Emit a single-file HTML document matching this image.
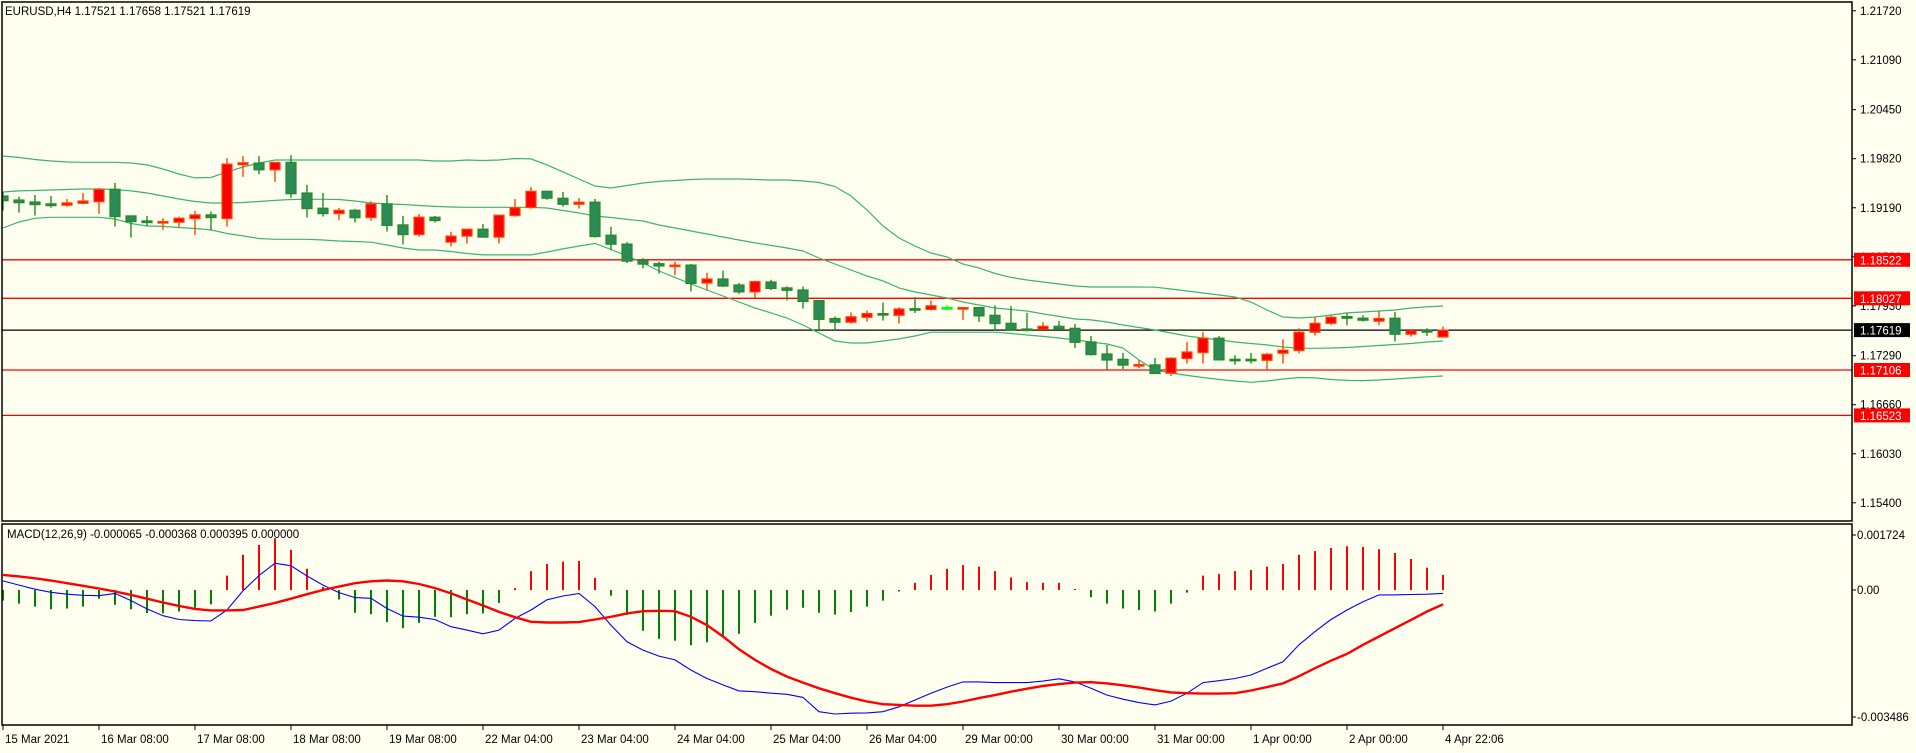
<!DOCTYPE html>
<html><head><meta charset="utf-8"><title>EURUSD H4</title>
<style>
html,body{margin:0;padding:0;background:#FFFFF0;}
body{width:1916px;height:748px;overflow:hidden;font-family:"Liberation Sans",sans-serif;}
svg text{font-family:"Liberation Sans",sans-serif;font-size:11.5px;}
</style></head>
<body>
<svg id="chart" width="1916" height="748" xmlns="http://www.w3.org/2000/svg">
<rect x="0" y="0" width="1916" height="748" fill="#FFFFF0"/>
<defs>
<clipPath id="mainClip"><rect x="2" y="2" width="1850" height="519"/></clipPath>
<clipPath id="macdClip"><rect x="2" y="524" width="1850" height="201"/></clipPath>
</defs>
<g id="main-plot" clip-path="url(#mainClip)"></g>
<g id="macd-plot" clip-path="url(#macdClip)"></g>
<g id="frame">
<rect x="2" y="2" width="1850" height="519" fill="none" stroke="#000" stroke-width="1.5"/>
<rect x="2" y="524" width="1850" height="201" fill="none" stroke="#000" stroke-width="1.5"/>
</g>
<g id="axes"></g>
<text x="5" y="15" fill="#000">EURUSD,H4  1.17521 1.17658 1.17521 1.17619</text>
<text x="7" y="538" fill="#000">MACD(12,26,9) -0.000065 -0.000368 0.000395 0.000000</text>
</svg>
<script>
const opens=[1.19341,1.19290,1.19264,1.19239,1.19222,1.19248,1.19268,1.19427,1.19085,1.19021,1.18999,1.19005,1.19051,1.19098,1.19051,1.19742,1.19764,1.19678,1.19773,1.19380,1.19184,1.19115,1.19158,1.19063,1.19239,1.18970,1.18846,1.19069,1.18749,1.18826,1.18915,1.18813,1.19089,1.19191,1.19401,1.19312,1.19235,1.19261,1.18838,1.18723,1.18513,1.18471,1.18441,1.18454,1.18224,1.18275,1.18198,1.18109,1.18237,1.18160,1.18134,1.17997,1.17767,1.17719,1.17784,1.17831,1.17809,1.17894,1.17885,1.17907,1.17904,1.17908,1.17809,1.17706,1.17633,1.17629,1.17667,1.17642,1.17466,1.17312,1.17244,1.17166,1.17171,1.17064,1.17253,1.17329,1.17514,1.17244,1.17244,1.17231,1.17321,1.17357,1.17592,1.17706,1.17792,1.17771,1.17732,1.17771,1.17565,1.17613,1.17531];
const highs=[1.19397,1.19332,1.19354,1.19341,1.19303,1.19380,1.19444,1.19508,1.19085,1.19085,1.19056,1.19076,1.19149,1.19140,1.19828,1.19853,1.19853,1.19773,1.19866,1.19482,1.19380,1.19188,1.19175,1.19273,1.19354,1.19085,1.19111,1.19085,1.18881,1.18915,1.18983,1.19094,1.19303,1.19456,1.19401,1.19392,1.19316,1.19303,1.18945,1.18749,1.18544,1.18497,1.18497,1.18467,1.18356,1.18382,1.18224,1.18254,1.18266,1.18180,1.18180,1.17997,1.17792,1.17844,1.17869,1.17972,1.17913,1.18044,1.17997,1.17937,1.17908,1.17908,1.17937,1.17928,1.17838,1.17719,1.17735,1.17697,1.17543,1.17427,1.17325,1.17230,1.17261,1.17270,1.17465,1.17594,1.17543,1.17295,1.17325,1.17325,1.17501,1.17643,1.17787,1.17805,1.17835,1.17809,1.17864,1.17852,1.17633,1.17643,1.17663];
const lows=[1.19153,1.19127,1.19089,1.19191,1.19204,1.19235,1.19111,1.18948,1.18807,1.18957,1.18906,1.18941,1.18842,1.18896,1.18948,1.19588,1.19623,1.19524,1.19319,1.19063,1.19076,1.19034,1.18999,1.19025,1.18884,1.18718,1.18820,1.18999,1.18692,1.18731,1.18813,1.18731,1.19076,1.19179,1.19294,1.19204,1.19179,1.18807,1.18643,1.18481,1.18411,1.18343,1.18321,1.18116,1.18128,1.18172,1.18083,1.18032,1.18134,1.18001,1.17895,1.17603,1.17616,1.17702,1.17728,1.17741,1.17702,1.17838,1.17872,1.17875,1.17750,1.17724,1.17612,1.17620,1.17600,1.17620,1.17633,1.17389,1.17291,1.17106,1.17119,1.17132,1.17060,1.17029,1.17188,1.17188,1.17235,1.17175,1.17188,1.17106,1.17188,1.17321,1.17548,1.17680,1.17680,1.17728,1.17680,1.17472,1.17535,1.17544,1.17531];
const closes=[1.19281,1.19255,1.19230,1.19217,1.19252,1.19277,1.19427,1.19076,1.19012,1.18999,1.19012,1.19056,1.19098,1.19063,1.19751,1.19767,1.19678,1.19773,1.19371,1.19179,1.19115,1.19158,1.19063,1.19239,1.18961,1.18846,1.19069,1.19025,1.18826,1.18915,1.18813,1.19094,1.19191,1.19401,1.19312,1.19235,1.19261,1.18820,1.18723,1.18505,1.18467,1.18441,1.18454,1.18219,1.18275,1.18185,1.18109,1.18241,1.18155,1.18129,1.17988,1.17757,1.17719,1.17789,1.17831,1.17815,1.17890,1.17885,1.17931,1.17907,1.17908,1.17801,1.17702,1.17620,1.17625,1.17667,1.17638,1.17462,1.17304,1.17235,1.17170,1.17175,1.17060,1.17257,1.17337,1.17514,1.17235,1.17236,1.17236,1.17308,1.17360,1.17592,1.17706,1.17784,1.17771,1.17745,1.17767,1.17565,1.17608,1.17592,1.17619];
const bandUpper=[1.19855,1.19836,1.19810,1.19791,1.19778,1.19774,1.19774,1.19774,1.19765,1.19740,1.19688,1.19624,1.19573,1.19579,1.19650,1.19714,1.19765,1.19804,1.19804,1.19804,1.19804,1.19804,1.19804,1.19804,1.19804,1.19804,1.19804,1.19791,1.19791,1.19804,1.19797,1.19804,1.19823,1.19817,1.19740,1.19650,1.19560,1.19470,1.19444,1.19476,1.19508,1.19528,1.19540,1.19553,1.19560,1.19560,1.19560,1.19553,1.19547,1.19547,1.19534,1.19515,1.19463,1.19341,1.19162,1.18956,1.18802,1.18699,1.18609,1.18558,1.18468,1.18417,1.18346,1.18295,1.18262,1.18237,1.18211,1.18185,1.18172,1.18172,1.18172,1.18172,1.18169,1.18147,1.18121,1.18095,1.18070,1.18044,1.17980,1.17877,1.17787,1.17774,1.17787,1.17813,1.17839,1.17851,1.17864,1.17877,1.17903,1.17916,1.17928];
const bandMiddle=[1.19393,1.19406,1.19412,1.19418,1.19425,1.19431,1.19431,1.19425,1.19406,1.19380,1.19341,1.19303,1.19271,1.19251,1.19251,1.19258,1.19271,1.19284,1.19296,1.19299,1.19299,1.19296,1.19277,1.19251,1.19239,1.19232,1.19219,1.19207,1.19200,1.19196,1.19196,1.19196,1.19196,1.19196,1.19187,1.19155,1.19123,1.19084,1.19065,1.19040,1.19020,1.18969,1.18930,1.18892,1.18853,1.18815,1.18776,1.18738,1.18706,1.18673,1.18635,1.18545,1.18468,1.18391,1.18314,1.18250,1.18160,1.18108,1.18070,1.18031,1.17980,1.17941,1.17903,1.17883,1.17864,1.17826,1.17794,1.17761,1.17749,1.17723,1.17684,1.17652,1.17620,1.17581,1.17543,1.17517,1.17492,1.17466,1.17447,1.17428,1.17402,1.17385,1.17385,1.17389,1.17395,1.17408,1.17421,1.17434,1.17447,1.17466,1.17479];
const bandLower=[1.18930,1.19007,1.19055,1.19068,1.19068,1.19068,1.19068,1.19046,1.18988,1.18956,1.18950,1.18937,1.18924,1.18905,1.18860,1.18828,1.18795,1.18785,1.18785,1.18785,1.18776,1.18763,1.18757,1.18747,1.18712,1.18673,1.18648,1.18648,1.18628,1.18603,1.18584,1.18584,1.18584,1.18584,1.18622,1.18661,1.18699,1.18731,1.18654,1.18571,1.18481,1.18378,1.18295,1.18211,1.18134,1.18057,1.17980,1.17903,1.17839,1.17774,1.17684,1.17581,1.17479,1.17453,1.17453,1.17479,1.17505,1.17543,1.17591,1.17591,1.17591,1.17591,1.17591,1.17575,1.17556,1.17537,1.17517,1.17492,1.17466,1.17440,1.17389,1.17235,1.17106,1.17068,1.17036,1.17010,1.16984,1.16965,1.16948,1.16965,1.16991,1.17010,1.17004,1.16984,1.16972,1.16970,1.16978,1.16991,1.17004,1.17017,1.17029];
const macdHist=[-0.00028,-0.00036,-0.00044,-0.00051,-0.00049,-0.00044,-0.00023,-0.00039,-0.00051,-0.00061,-0.00062,-0.00057,-0.00047,-0.00038,0.00038,0.00093,0.00119,0.00137,0.00106,0.00056,0.00008,-0.00025,-0.00060,-0.00064,-0.00085,-0.00101,-0.00087,-0.00071,-0.00072,-0.00064,-0.00062,-0.00034,0.00005,0.00050,0.00069,0.00075,0.00077,0.00032,-0.00015,-0.00066,-0.00108,-0.00129,-0.00134,-0.00146,-0.00138,-0.00125,-0.00116,-0.00087,-0.00068,-0.00052,-0.00047,-0.00060,-0.00065,-0.00058,-0.00044,-0.00028,-0.00004,0.00019,0.00040,0.00056,0.00066,0.00062,0.00050,0.00033,0.00021,0.00019,0.00019,0.00003,-0.00019,-0.00036,-0.00049,-0.00053,-0.00057,-0.00036,-0.00007,0.00038,0.00042,0.00050,0.00053,0.00062,0.00069,0.00093,0.00103,0.00111,0.00116,0.00114,0.00108,0.00098,0.00082,0.00059,0.00040];
const macdLine=[0.00024,0.00013,0.00002,-0.00006,-0.00011,-0.00014,-0.00015,-0.00009,-0.00028,-0.00050,-0.00068,-0.00078,-0.00081,-0.00082,-0.00053,-0.00002,0.00038,0.00071,0.00064,0.00037,0.00013,-0.00007,-0.00020,-0.00022,-0.00049,-0.00069,-0.00072,-0.00078,-0.00097,-0.00106,-0.00116,-0.00106,-0.00075,-0.00053,-0.00026,-0.00016,-0.00009,-0.00044,-0.00093,-0.00137,-0.00159,-0.00175,-0.00185,-0.00212,-0.00234,-0.00251,-0.00267,-0.00269,-0.00273,-0.00276,-0.00284,-0.00322,-0.00328,-0.00326,-0.00325,-0.00322,-0.00309,-0.00291,-0.00273,-0.00257,-0.00243,-0.00243,-0.00245,-0.00245,-0.00245,-0.00241,-0.00235,-0.00243,-0.00260,-0.00278,-0.00289,-0.00298,-0.00304,-0.00294,-0.00273,-0.00245,-0.00240,-0.00234,-0.00225,-0.00207,-0.00190,-0.00145,-0.00110,-0.00078,-0.00053,-0.00031,-0.00013,-0.00013,-0.00012,-0.00011,-0.00009];
const signalLine=[0.00040,0.00036,0.00031,0.00025,0.00018,0.00011,0.00004,-0.00004,-0.00013,-0.00023,-0.00033,-0.00042,-0.00050,-0.00054,-0.00054,-0.00053,-0.00044,-0.00034,-0.00023,-0.00011,0.00000,0.00009,0.00018,0.00023,0.00025,0.00023,0.00016,0.00005,-0.00009,-0.00025,-0.00041,-0.00058,-0.00072,-0.00084,-0.00086,-0.00086,-0.00085,-0.00078,-0.00071,-0.00062,-0.00056,-0.00055,-0.00056,-0.00071,-0.00093,-0.00123,-0.00157,-0.00185,-0.00209,-0.00229,-0.00245,-0.00260,-0.00273,-0.00285,-0.00295,-0.00302,-0.00304,-0.00306,-0.00306,-0.00302,-0.00295,-0.00286,-0.00278,-0.00269,-0.00261,-0.00254,-0.00249,-0.00245,-0.00244,-0.00247,-0.00252,-0.00258,-0.00265,-0.00271,-0.00273,-0.00274,-0.00274,-0.00273,-0.00266,-0.00257,-0.00247,-0.00228,-0.00207,-0.00187,-0.00169,-0.00145,-0.00123,-0.00101,-0.00079,-0.00057,-0.00038];
const priceTicks=["1.21720","1.21090","1.20450","1.19820","1.19190","1.18560","1.17930","1.17290","1.16660","1.16030","1.15400"];
const redLevels=[1.18522,1.18027,1.17106,1.16523];
const lastPrice=1.17619;
const macdTicks=["0.001724","0.00","-0.003486"];
const timeLabels=["15 Mar 2021","16 Mar 08:00","17 Mar 08:00","18 Mar 08:00","19 Mar 08:00","22 Mar 04:00","23 Mar 04:00","24 Mar 04:00","25 Mar 04:00","26 Mar 04:00","29 Mar 00:00","30 Mar 00:00","31 Mar 00:00","1 Apr 00:00","2 Apr 00:00"];
const lastTimeLabel="4 Apr 22:06";

const NS="http://www.w3.org/2000/svg";
function xB(i){return 3+16*i;}
function yP(p){return 298.3+(1.18027-p)*7785;}
function yM(v){return 590-v*37800;}
function mk(tag,attrs,parent){const e=document.createElementNS(NS,tag);for(const k in attrs)e.setAttribute(k,attrs[k]);parent.appendChild(e);return e;}
const main=document.getElementById('main-plot');
const macd=document.getElementById('macd-plot');
const axes=document.getElementById('axes');

// horizontal levels
redLevels.forEach((p,k)=>{
  const l=mk('line',{x1:2,x2:1852,y1:yP(p).toFixed(1),y2:yP(p).toFixed(1),stroke:'#FF0000','stroke-width':1.3},main);
  
  
});
const bl=mk('line',{x1:2,x2:1852,y1:yP(lastPrice).toFixed(1),y2:yP(lastPrice).toFixed(1),stroke:'#000','stroke-width':1.3},main);



// bands
[[bandUpper,'bollinger-upper'],[bandMiddle,'bollinger-middle'],[bandLower,'bollinger-lower']].forEach(([arr,name])=>{
  const pts=arr.map((p,i)=>xB(i)+','+yP(p).toFixed(1)).join(' ');
  const pl=mk('polyline',{points:pts,fill:'none',stroke:'#3CB371','stroke-width':1.2},main);
  
  
});

// candles
opens.forEach((o,i)=>{
  const c=closes[i],h=highs[i],lo=lows[i],x=xB(i);
  const g=mk('g',{},main);
  
  
  let wick,fill,edge;
  if(Math.abs(o-c)<0.000005){wick='#00FF00';fill='#00FF00';edge='#00FF00';}
  else if(c>o){wick='#FF4500';fill='#FF0000';edge='#FF4500';}
  else{wick='#228B22';fill='#2E8B57';edge='#228B22';}
  mk('line',{x1:x,x2:x,y1:yP(h).toFixed(1),y2:yP(lo).toFixed(1),stroke:wick,'stroke-width':1.4},g);
  const top=yP(Math.max(o,c)),bot=yP(Math.min(o,c));
  const ht=Math.max(bot-top,1.5);
  mk('rect',{x:x-5,y:top.toFixed(1),width:10,height:ht.toFixed(1),fill:fill,stroke:edge,'stroke-width':1.2},g);
});

// MACD histogram
macdHist.forEach((v,i)=>{
  const x=xB(i);
  const b=mk('line',{x1:x,x2:x,y1:yM(0),y2:yM(v).toFixed(1),stroke:v>=0?'#FF0000':'#008000','stroke-width':2},macd);
  
  
});
const ml=mk('polyline',{points:macdLine.map((v,i)=>xB(i)+','+yM(v).toFixed(1)).join(' '),fill:'none',stroke:'#0000FF','stroke-width':1.1},macd);


const sl=mk('polyline',{points:signalLine.map((v,i)=>xB(i)+','+yM(v).toFixed(1)).join(' '),fill:'none',stroke:'#FF0000','stroke-width':2.4},macd);



// price axis
priceTicks.forEach(t=>{
  const y=yP(parseFloat(t));
  mk('line',{x1:1852,x2:1856,y1:y,y2:y,stroke:'#000'},axes);
  const tx=mk('text',{x:1860,y:(y+4).toFixed(1),fill:'#000'},axes);
  tx.textContent=t;
  
  
});
function tag(p,bg,name){
  const y=yP(p);
  const r=mk('rect',{x:1854,y:(y-7).toFixed(1),width:56,height:14,fill:bg},axes);
  
  
  const t=mk('text',{x:1860,y:(y+4.5).toFixed(1),fill:'#FFF'},axes);
  t.textContent=p.toFixed(5);
  
  
}
redLevels.forEach(p=>tag(p,'#FF0000','level-price-tag'));
tag(lastPrice,'#000','bid-price-tag');

// macd axis
const macdVals=[0.001724,0,-0.003486];
const macdYs=[535,590,717];
macdTicks.forEach((t,k)=>{
  const y=k===1?yM(macdVals[k]):macdYs[k];
  mk('line',{x1:1852,x2:1856,y1:y,y2:y,stroke:'#000'},axes);
  const tx=mk('text',{x:1857,y:(y+4).toFixed(1),fill:'#000'},axes);
  tx.textContent=t;
  
  
});

// time axis
timeLabels.forEach((t,k)=>{
  const x=xB(6*k);
  mk('line',{x1:x,x2:x,y1:725,y2:730,stroke:'#000'},axes);
  const tx=mk('text',{x:x+2,y:743,fill:'#000'},axes);
  tx.textContent=t;
  
  
});
{
  const x=xB(opens.length-1);
  mk('line',{x1:x,x2:x,y1:725,y2:730,stroke:'#000'},axes);
  const tx=mk('text',{x:x+2,y:743,fill:'#000'},axes);
  tx.textContent=lastTimeLabel;
  
  
}
</script>
</body></html>
